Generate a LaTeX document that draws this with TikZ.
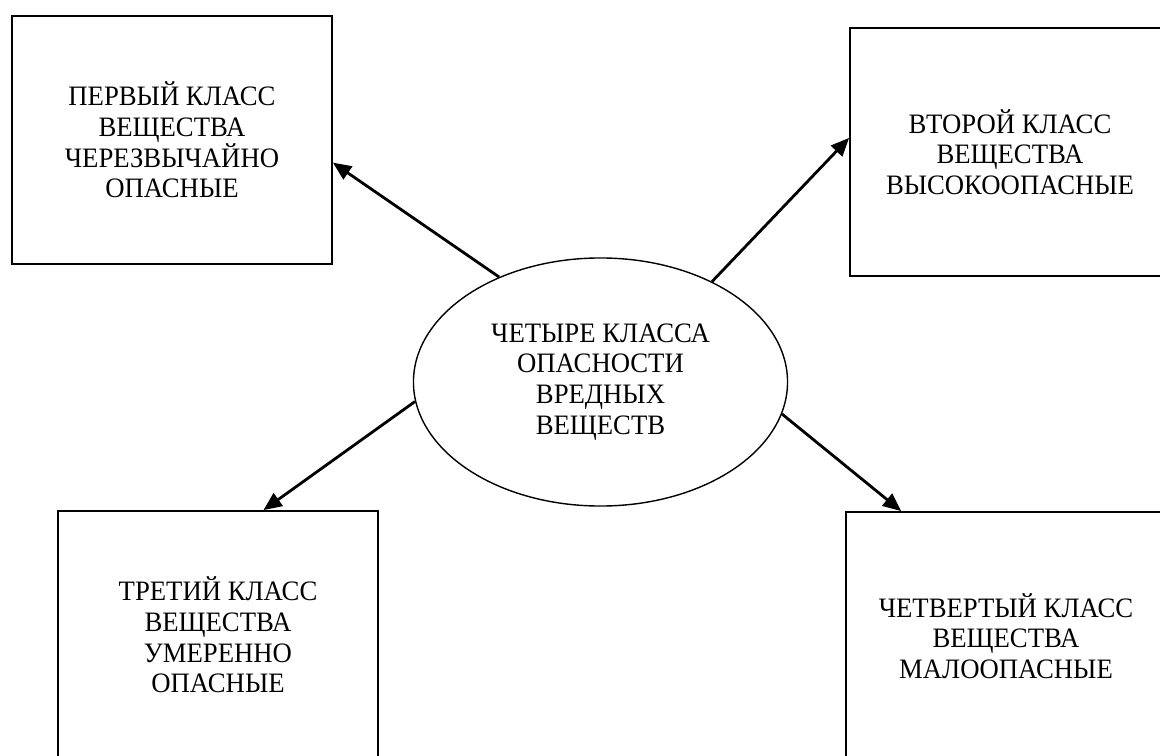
\documentclass[tikz,border=0pt]{standalone}
\usepackage{fontspec}
\setmainfont[FakeStretch=0.95]{Liberation Serif}
\usetikzlibrary{arrows.meta,shapes.geometric}

\begin{document}
\begin{tikzpicture}[
  x=0.025cm, y=-0.025cm,
  font=\fontsize{20}{21.8}\selectfont,
  klass/.style={draw, line width=1.2pt, align=center, minimum width=8cm, minimum height=6.2cm},
  hazard/.style={draw, ellipse, line width=1pt, align=center, minimum width=9.35cm, minimum height=6.2cm},
  arrow/.style={-{Triangle[length=13pt, width=11pt]}, line width=2pt}
]
\clip (0,0) rectangle (1160,756);

% Centre
\node[hazard] (classes) at (600.5,382) {ЧЕТЫРЕ КЛАССА\\ОПАСНОСТИ\\ВРЕДНЫХ\\ВЕЩЕСТВ};

% Four classes
\node[klass] (first) at (172,140) {ПЕРВЫЙ КЛАСС\\ВЕЩЕСТВА\\ЧЕРЕЗВЫЧАЙНО\\ОПАСНЫЕ};
\node[klass] (second) at (1010,152) {ВТОРОЙ КЛАСС\\ВЕЩЕСТВА\\ВЫСОКООПАСНЫЕ};
\node[klass] (third) at (218,635) {ТРЕТИЙ КЛАСС\\ВЕЩЕСТВА\\УМЕРЕННО\\ОПАСНЫЕ};
\node[klass] (fourth) at (1006,636) {ЧЕТВЕРТЫЙ КЛАСС\\ВЕЩЕСТВА\\МАЛООПАСНЫЕ};

% Connections
\draw[arrow] (classes.134.6) -- (first.-8);
\draw[arrow] (classes.42.9) -- (second.175);
\draw[arrow] (classes.186) -- (third.70.3);
\draw[arrow] (classes.-10.7) -- (fourth.130);

\end{tikzpicture}
\end{document}
